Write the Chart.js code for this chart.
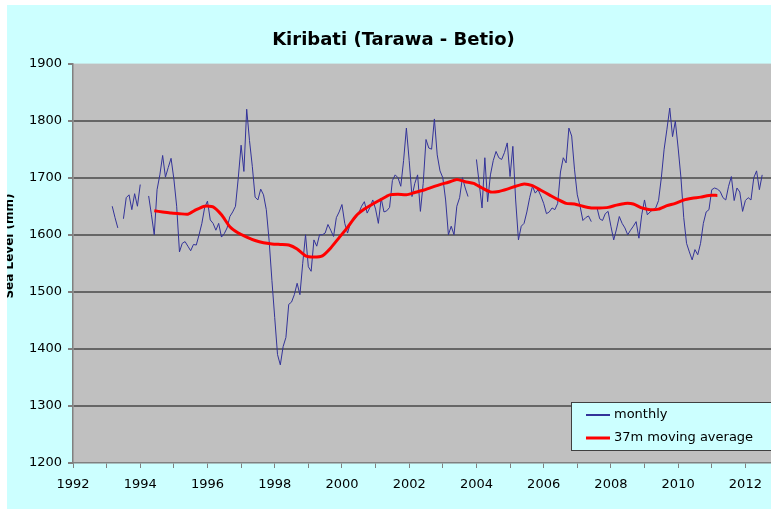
<!DOCTYPE html>
<html>
<head>
<meta charset="utf-8">
<script src="https://cdn.jsdelivr.net/npm/chart.js@4.4.1/dist/chart.umd.min.js"></script>
<style>
  html, body { margin: 0; padding: 0; background: #fff; overflow: hidden; }
  #wrap { position: relative; width: 771px; height: 509px; overflow: hidden; }
  #chart { position: absolute; left: 0; top: 0; width: 788px; height: 509px; }
  .mask { position: absolute; background: #fff; }
</style>
</head>
<body>
<div id="wrap">
  <canvas id="chart" width="788" height="509"></canvas>
  <div class="mask" style="left:0;top:0;width:771px;height:5px"></div>
  <div class="mask" style="left:0;top:0;width:7px;height:509px"></div>
</div>
<script>
// monthly sea level (mm), one row per year, starting Jan 1993 (null = missing month)
const monthlyStart = 1993;
const monthly = [
  null, null, 1650, 1630, 1612, null, 1628, 1665, 1670, 1644, 1672, 1650,
  1688, null, null, 1668, 1635, 1600, 1679, 1705, 1739, 1701, 1718, 1734,
  1698, 1650, 1570, 1585, 1588, 1580, 1572, 1583, 1582, 1600, 1620, 1648,
  1659, 1626, 1620, 1608, 1620, 1596, 1602, 1612, 1632, 1640, 1650, 1700,
  1757, 1711, 1820, 1765, 1720, 1666, 1661, 1680, 1670, 1644, 1590, 1520,
  1455, 1390, 1372, 1404, 1420, 1478, 1482, 1495, 1515, 1495, 1550, 1600,
  1544, 1536, 1591, 1580, 1600, 1600, 1603, 1618, 1608, 1597, 1630, 1640,
  1653, 1620, 1603, 1620, 1626, 1630, 1638, 1650, 1658, 1638, 1648, 1661,
  1645, 1620, 1664, 1640, 1642, 1648, 1695, 1705, 1700, 1685, 1730, 1787,
  1730, 1667, 1690, 1705, 1641, 1690, 1767, 1752, 1750, 1803, 1740, 1712,
  1700, 1661, 1600, 1615, 1600, 1650, 1665, 1700, 1682, 1667, null, null,
  1732, 1690, 1647, 1735, 1658, 1705, 1730, 1746, 1735, 1732, 1744, 1761,
  1702, 1755, 1661, 1591, 1615, 1620, 1640, 1665, 1685, 1673, 1679, 1668,
  1655, 1637, 1640, 1647, 1644, 1655, 1710, 1735, 1726, 1787, 1773, 1715,
  1670, 1650, 1625, 1630, 1633, 1623, null, 1648, 1628, 1625, 1637, 1641,
  1615, 1591, 1610, 1632, 1620, 1612, 1600, 1608, 1615, 1623, 1594, 1635,
  1661, 1635, 1640, 1644, 1647, 1660, 1700, 1750, 1785, 1822, 1772, 1799,
  1752, 1700, 1630, 1585, 1570, 1556, 1574, 1565, 1585, 1620, 1640, 1644,
  1679, 1682, 1680, 1676, 1665, 1661, 1685, 1702, 1660, 1682, 1675, 1641,
  1660, 1665, 1661, 1700, 1712, 1679, 1705
];

// 37 month moving average, read every 3 months from Jun 1994
const maStart = 1994 + 5 / 12;
const movingAvg = [
  1642, 1640, 1638, 1637, 1636, 1644, 1650, 1649, 1635, 1614,
  1603, 1596, 1590, 1586, 1584, 1583, 1582, 1575, 1563, 1561,
  1563, 1577, 1595, 1613, 1633, 1645, 1654, 1662, 1670, 1671,
  1670, 1674, 1678, 1683, 1688, 1692, 1697, 1693, 1690, 1682,
  1675, 1676, 1680, 1685, 1689, 1686, 1678, 1670, 1662, 1655,
  1654, 1650, 1647, 1647, 1648, 1652, 1655, 1654, 1647, 1644,
  1645, 1651, 1655, 1661, 1664, 1666, 1669, 1669
];

const seriesNames = ['monthly', '37m moving average'];
const yTicks = [1200, 1300, 1400, 1500, 1600, 1700, 1800, 1900];

Chart.defaults.font.family = 'DejaVu Sans';
Chart.defaults.font.size = 13;
Chart.defaults.color = '#000';

// cyan page + grey plot area
const chartBackground = {
  id: 'chartBackground',
  beforeDraw(chart) {
    const { ctx, chartArea: a } = chart;
    ctx.save();
    ctx.fillStyle = '#ccffff';
    ctx.fillRect(0, 0, chart.width, chart.height);
    ctx.fillStyle = '#c0c0c0';
    ctx.fillRect(a.left, a.top, a.right - a.left, a.bottom - a.top);
    ctx.restore();
  }
};

// y title and boxed legend, Excel style
const extras = {
  id: 'extras',
  afterDraw(chart) {
    const ctx = chart.ctx;
    ctx.save();
    ctx.translate(10, 246);
    ctx.rotate(-Math.PI / 2);
    ctx.font = 'bold 12px "DejaVu Sans"';
    ctx.fillStyle = '#000';
    ctx.textAlign = 'center';
    ctx.textBaseline = 'middle';
    ctx.fillText('Sea Level (mm)', 0, 0);
    ctx.restore();

    ctx.save();
    ctx.fillStyle = '#ccffff';
    ctx.fillRect(571, 402, 220, 48);
    ctx.strokeStyle = '#404040';
    ctx.lineWidth = 1;
    ctx.strokeRect(571.5, 402.5, 220, 48);
    ctx.font = '13px "DejaVu Sans"';
    ctx.textBaseline = 'middle';
    chart.data.datasets.forEach((ds, i) => {
      const y = 415 + i * 23;
      ctx.strokeStyle = ds.borderColor;
      ctx.lineWidth = ds.borderWidth === 1 ? 2 : 3;
      ctx.beginPath();
      ctx.moveTo(586, y);
      ctx.lineTo(610, y);
      ctx.stroke();
      ctx.fillStyle = '#000';
      ctx.fillText(ds.label, 614, y);
    });
    ctx.restore();
  }
};

new Chart(document.getElementById('chart'), {
  type: 'line',
  data: {
    datasets: [
      {
        label: seriesNames[0],
        data: monthly.map((v, i) => ({ x: monthlyStart + i / 12, y: v })),
        borderColor: '#333399',
        borderWidth: 1,
        pointRadius: 0,
        spanGaps: false,
        order: 1
      },
      {
        label: seriesNames[1],
        data: movingAvg.map((v, i) => ({ x: maStart + i / 4, y: v })),
        borderColor: '#ff0000',
        borderWidth: 3,
        pointRadius: 0,
        tension: 0.2,
        order: 0
      }
    ]
  },
  options: {
    responsive: false,
    animation: false,
    layout: { padding: { left: 0, right: 1, top: 0, bottom: 0 } },
    plugins: {
      legend: { display: false },
      tooltip: { enabled: false },
      title: {
        display: true,
        text: 'Kiribati (Tarawa - Betio)',
        font: { size: 18, weight: 'bold' },
        color: '#000',
        padding: { top: 30, bottom: 12 }
      }
    },
    scales: {
      x: {
        type: 'linear',
        min: 1992,
        max: 2013,
        afterFit: s => { s.height = 46; },
        grid: { drawOnChartArea: false, drawTicks: true, tickLength: 5, tickColor: '#808080' },
        border: { display: true, color: '#808080', width: 1.5 },
        ticks: {
          stepSize: 1,
          includeBounds: false,
          autoSkip: false,
          maxRotation: 0,
          padding: 9,
          callback: v => (v % 2 === 0 ? String(v) : '')
        }
      },
      y: {
        min: yTicks[0],
        max: yTicks[yTicks.length - 1],
        afterFit: s => { s.width = 73; },
        afterBuildTicks: s => { s.ticks = yTicks.map(v => ({ value: v })); },
        grid: {
          color: c => (c.tick && (c.tick.value === 1900 || c.tick.value === 1200) ? 'rgba(0,0,0,0)' : '#666666'),
          lineWidth: 2,
          tickLength: 5,
          tickColor: '#808080'
        },
        border: { display: true, color: '#808080', width: 1.5 },
        ticks: { padding: 6, callback: v => String(v) }
      }
    }
  },
  plugins: [chartBackground, extras]
});
</script>
</body>
</html>
